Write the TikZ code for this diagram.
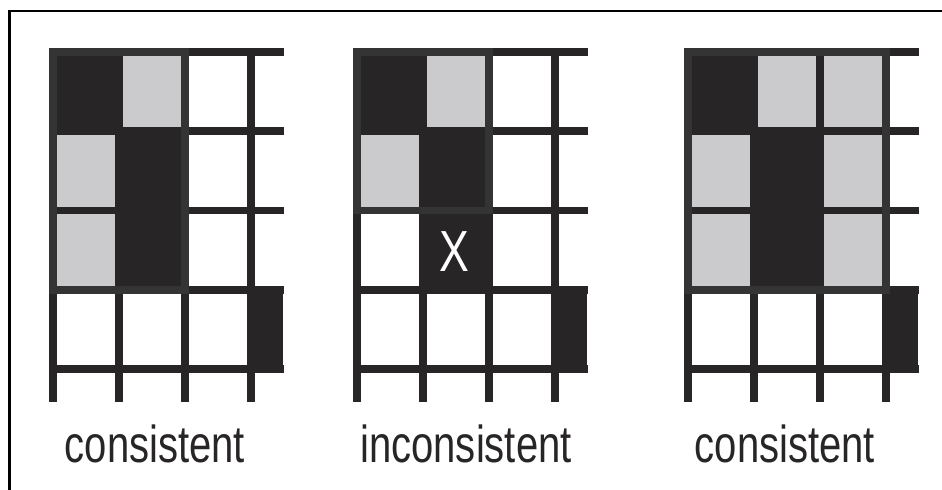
\documentclass[tikz,border=0pt]{standalone}
\usepackage{fontspec}
\usepackage{xcolor}
\usepackage{tikz}
\usetikzlibrary{positioning}

\newfontfamily\labelfont[FakeStretch=0.77]{Liberation Sans}
\definecolor{ink}{RGB}{40,37,38}
\definecolor{rim}{RGB}{53,52,53}
\definecolor{shade}{RGB}{203,203,205}

\begin{document}
\begin{tikzpicture}[
    x=0.5pt, y=-0.5pt,
    frameline/.style={black, line width=1.25pt},
    gridline/.style={ink, line width=3.9pt},
    regionrim/.style={rim, line width=3.9pt},
    shadecell/.style={fill=shade},
    inkcell/.style={fill=ink},
    caption/.style={font=\labelfont\fontsize{26pt}{30pt}\selectfont, text=ink,
                    inner sep=0pt, anchor=base},
    flaw/.style={font=\labelfont\fontsize{29pt}{33pt}\selectfont, text=white,
                 inner sep=0pt, anchor=base},
]
    \useasboundingbox (0,0) rectangle (942,490);

    % ── Outer frame (open to the right and bottom) ─────
    \draw[frameline] (9.5,490) -- (9.5,11) -- (942,11);

    % ── Light cells: grid x-offset / column / row ──────
    \foreach \gx/\c/\r in {49.3/1/0, 49.3/0/1, 49.3/0/2,
                           353.3/1/0, 353.3/0/1,
                           684.3/1/0, 684.3/2/0, 684.3/0/1,
                           684.3/2/1, 684.3/0/2, 684.3/2/2}
        \path[shadecell] ({\gx+\c*66+7.7},{48.3+\r*79.2+7.8})
            rectangle ({\gx+(\c+1)*66},{48.3+(\r+1)*79.2});

    % ── Grid lines ─────────────────────────────────────
    \foreach \gx in {49.3, 353.3, 684.3} {
        \foreach \k in {0,...,3}
            \draw[gridline] ({\gx+\k*66+3.85},48.3) -- ({\gx+\k*66+3.85},402);
        \foreach \k in {0,...,4}
            \draw[gridline] (\gx,{48.3+\k*79.2+3.9}) -- ({\gx+235},{48.3+\k*79.2+3.9});
        % dark block at the right edge of the last row
        \path[inkcell] ({\gx+198},285.9) rectangle ({\gx+233.5},373.5);
    }

    % ── Dark cells ─────────────────────────────────────
    \foreach \gx in {49.3, 353.3, 684.3}
        \foreach \c/\r in {0/0, 1/1, 1/2}
            \path[inkcell] ({\gx+\c*66},{48.3+\r*79.2})
                rectangle ({\gx+(\c+1)*66+7.7},{48.3+(\r+1)*79.2+7.8});

    % ── Region outlines: grid x-offset / columns / rows ─
    \foreach \gx/\nc/\nr in {49.3/2/3, 353.3/2/2, 684.3/3/3}
        \draw[regionrim] ({\gx+3.85},52.2)
            rectangle ({\gx+\nc*66+3.85},{48.3+\nr*79.2+3.9});

    % ── Labels ─────────────────────────────────────────
    \node[flaw] (flaw) at (454,271.7) {X};
    \node[caption] (capLeft)  at (155,463) {consistent};
    \node[caption] (capMid)   at (466,463) {inconsistent};
    \node[caption] (capRight) at (785,463) {consistent};
\end{tikzpicture}
\end{document}
